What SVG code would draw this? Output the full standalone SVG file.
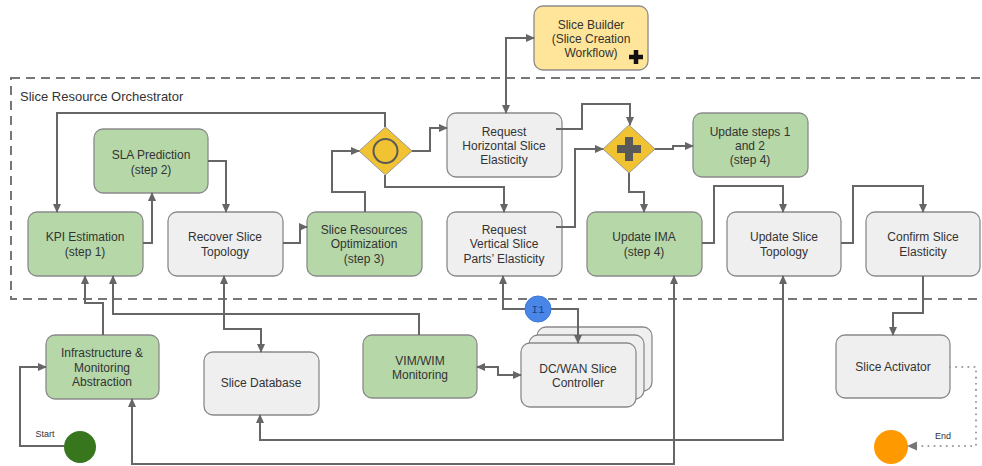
<svg xmlns="http://www.w3.org/2000/svg" width="982" height="466" viewBox="0 0 982 466">
<defs>
<marker id="a" viewBox="0 0 10 10" refX="9" refY="5" markerWidth="9" markerHeight="9" markerUnits="userSpaceOnUse" orient="auto-start-reverse"><path d="M0,0.5 L10,5 L0,9.5 z" fill="#666"/></marker>
<marker id="d" viewBox="0 0 10 10" refX="9" refY="5" markerWidth="10" markerHeight="10" markerUnits="userSpaceOnUse" orient="auto"><path d="M0,0.5 L10,5 L0,9.5 z" fill="#777"/></marker>
<style>
.box{stroke:#8a8a8a;stroke-width:1.3}
.g{fill:#b6d7a8}
.w{fill:#efefef}
.y{fill:#ffe599}
.t{font-family:"Liberation Sans",Arial,sans-serif;font-size:12px;fill:#333;text-anchor:middle}
.c{fill:none;stroke:#666;stroke-width:2}
</style>
</defs>
<rect width="982" height="466" fill="#fff"/>
<g id="container">
<rect x="11" y="78" width="980" height="221" fill="none" stroke="#777" stroke-width="2" stroke-dasharray="9 6"/>
<text x="20" y="101" font-family="Liberation Sans,Arial,sans-serif" font-size="13" fill="#333">Slice Resource Orchestrator</text>
</g>
<g id="slice-builder">
<rect class="box y" x="534" y="6" width="114" height="64" rx="9"/>
<text class="t" x="591" y="29">Slice Builder</text>
<text class="t" x="591" y="43">(Slice Creation</text>
<text class="t" x="591" y="57">Workflow)</text>
<path d="M636,50 V64 M629,57 H643" stroke="#111" stroke-width="4.5"/>
</g>
<g id="kpi-estimation">
<rect class="box g" x="28" y="212" width="115" height="64" rx="9"/>
<text class="t" x="85" y="241">KPI Estimation</text>
<text class="t" x="85" y="256">(step 1)</text>
</g>
<g id="sla-prediction">
<rect class="box g" x="94" y="129" width="114" height="64" rx="9"/>
<text class="t" x="151" y="159">SLA Prediction</text>
<text class="t" x="151" y="174">(step 2)</text>
</g>
<g id="recover-slice-topology">
<rect class="box w" x="168" y="212" width="115" height="64" rx="9"/>
<text class="t" x="225" y="241">Recover Slice</text>
<text class="t" x="225" y="256">Topology</text>
</g>
<g id="slice-resources-optimization">
<rect class="box g" x="307" y="212" width="115" height="64" rx="9"/>
<text class="t" x="364" y="234">Slice Resources</text>
<text class="t" x="364" y="248">Optimization</text>
<text class="t" x="364" y="263">(step 3)</text>
</g>
<g id="event-gateway">
<path d="M385.5,127 L412,151 L385.5,175 L359,151 z" fill="#f1c232" stroke="#999" stroke-width="1"/>
<circle cx="385.5" cy="151" r="12" fill="none" stroke="#595959" stroke-width="2"/>
</g>
<g id="request-horizontal">
<rect class="box w" x="447" y="113" width="115" height="64" rx="9"/>
<text class="t" x="504" y="136">Request</text>
<text class="t" x="504" y="150">Horizontal Slice</text>
<text class="t" x="504" y="164">Elasticity</text>
</g>
<g id="request-vertical">
<rect class="box w" x="447" y="212" width="115" height="64" rx="9"/>
<text class="t" x="504" y="234">Request</text>
<text class="t" x="504" y="248">Vertical Slice</text>
<text class="t" x="504" y="263">Parts’ Elasticity</text>
</g>
<g id="parallel-gateway">
<path d="M629,125 L655,149 L629,173 L603,149 z" fill="#f1c232" stroke="#999" stroke-width="1"/>
<path d="M629,137 V161 M617,149 H641" stroke="#595959" stroke-width="8"/>
</g>
<g id="update-steps">
<rect class="box g" x="693" y="113" width="115" height="64" rx="9"/>
<text class="t" x="750" y="136">Update steps 1</text>
<text class="t" x="750" y="150">and 2</text>
<text class="t" x="750" y="164">(step 4)</text>
</g>
<g id="update-ima">
<rect class="box g" x="587" y="212" width="115" height="64" rx="9"/>
<text class="t" x="644" y="241">Update IMA</text>
<text class="t" x="644" y="256">(step 4)</text>
</g>
<g id="update-slice-topology">
<rect class="box w" x="727" y="212" width="114" height="64" rx="9"/>
<text class="t" x="784" y="241">Update Slice</text>
<text class="t" x="784" y="256">Topology</text>
</g>
<g id="confirm-slice-elasticity">
<rect class="box w" x="866" y="212" width="114" height="64" rx="9"/>
<text class="t" x="923" y="241">Confirm Slice</text>
<text class="t" x="923" y="256">Elasticity</text>
</g>
<g id="infrastructure">
<rect class="box g" x="46" y="335" width="113" height="64" rx="9"/>
<text class="t" x="102" y="357">Infrastructure &amp;</text>
<text class="t" x="102" y="372">Monitoring</text>
<text class="t" x="102" y="386">Abstraction</text>
</g>
<g id="slice-database">
<rect class="box w" x="204" y="352" width="115" height="63" rx="9"/>
<text class="t" x="261" y="387">Slice Database</text>
</g>
<g id="vim-wim">
<rect class="box g" x="363" y="335" width="114" height="63" rx="9"/>
<text class="t" x="420" y="365">VIM/WIM</text>
<text class="t" x="420" y="379">Monitoring</text>
</g>
<g id="dc-wan">
<rect class="box w" x="537" y="327" width="115" height="64" rx="9"/>
<rect class="box w" x="529" y="335" width="115" height="64" rx="9"/>
<rect class="box w" x="521" y="343" width="115" height="64" rx="9"/>
<text class="t" x="578" y="373">DC/WAN Slice</text>
<text class="t" x="578" y="387">Controller</text>
</g>
<g id="slice-activator">
<rect class="box w" x="836" y="335" width="114" height="63" rx="9"/>
<text class="t" x="893" y="371">Slice Activator</text>
</g>
<g id="start">
<circle cx="80" cy="447" r="16" fill="#38761d"/>
<text x="45" y="437" font-family="Liberation Sans,Arial,sans-serif" font-size="9" fill="#333" text-anchor="middle">Start</text>
</g>
<g id="end">
<circle cx="891" cy="447" r="17" fill="#ff9900"/>
<text x="943" y="439" font-family="Liberation Sans,Arial,sans-serif" font-size="9" fill="#333" text-anchor="middle">End</text>
</g>
<g id="connectors">
<path class="c" d="M506,113 V38 H534" marker-start="url(#a)" marker-end="url(#a)"/>
<path class="c" d="M385,127 V113 H57 V212" marker-end="url(#a)"/>
<path class="c" d="M143,243 H152 V193" marker-end="url(#a)"/>
<path class="c" d="M208,161 H226 V212" marker-end="url(#a)"/>
<path class="c" d="M283,243 H300 V227 H307" marker-end="url(#a)"/>
<path class="c" d="M365,212 V192 H332 V151 H359" marker-end="url(#a)"/>
<path class="c" d="M412,151 H430 V128 H447" marker-end="url(#a)"/>
<path class="c" d="M385,175 V187 H504 V212" marker-end="url(#a)"/>
<path class="c" d="M556,129 H582 V104 H630 V125" marker-end="url(#a)"/>
<path class="c" d="M556,227 H575 V149 H603" marker-end="url(#a)"/>
<path class="c" d="M655,149 H673 V146 H693" marker-end="url(#a)"/>
<path class="c" d="M629,173 V192 H644 V212" marker-end="url(#a)"/>
<path class="c" d="M702,243 H714 V186 H783 V212" marker-end="url(#a)"/>
<path class="c" d="M841,243 H853 V186 H923 V212" marker-end="url(#a)"/>
<path class="c" d="M923,276 V313 H893 V335" marker-end="url(#a)"/>
<path d="M950,367 H976 V446 H908" fill="none" stroke="#999" stroke-width="2" stroke-dasharray="0.1 6" stroke-linecap="round" marker-end="url(#d)"/>
<path class="c" d="M64,446 H20 V367 H46" marker-end="url(#a)"/>
<path class="c" d="M103,335 V303 H85 V276" marker-end="url(#a)"/>
<path class="c" d="M419,335 V314 H113 V276" marker-end="url(#a)"/>
<path class="c" d="M224,276 V329 H261 V352" marker-start="url(#a)" marker-end="url(#a)"/>
<path class="c" d="M477,367 H498 V375 H521" marker-start="url(#a)" marker-end="url(#a)"/>
<path class="c" d="M503,276 V309 H578 V343" marker-start="url(#a)" marker-end="url(#a)"/>
<path class="c" d="M674,276 V464 H132 V399" marker-start="url(#a)" marker-end="url(#a)"/>
<path class="c" d="M783,276 V440 H260 V415" marker-start="url(#a)" marker-end="url(#a)"/>
</g>
<g id="i1">
<circle cx="538" cy="309" r="13" fill="#4a86e8" stroke="#3c78d8" stroke-width="1"/>
<text x="538" y="313" font-family="Liberation Mono,monospace" font-size="11" fill="#1c4587" text-anchor="middle">I1</text>
</g>
</svg>
